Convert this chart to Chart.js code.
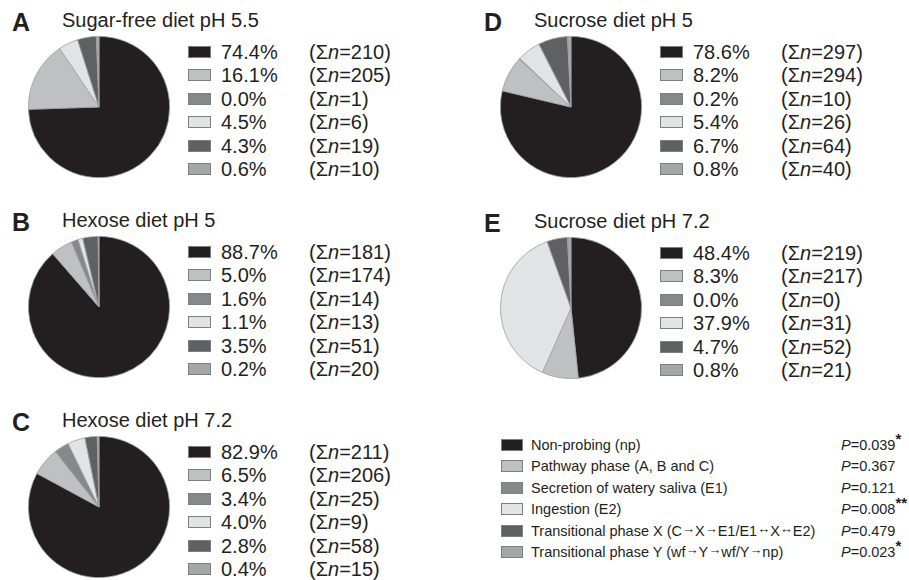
<!DOCTYPE html>
<html>
<head>
<meta charset="utf-8">
<script src="https://cdn.jsdelivr.net/npm/chart.js@4.4.1/dist/chart.umd.min.js"></script>
<style>
  html, body { margin: 0; padding: 0; background: #ffffff; }
  body { width: 909px; height: 580px; position: relative; overflow: hidden;
         font-family: "Liberation Sans", Arial, sans-serif; color: #231f20; }
  .abs { position: absolute; white-space: nowrap; }
  .letter { font-weight: bold; font-size: 25px; line-height: 25px; }
  .title { font-size: 20px; line-height: 20px; }
  .row { font-size: 20px; line-height: 20px; }
  .sw { position: absolute; box-sizing: border-box; border: 1px solid #7d7e80; }
  .key { font-size: 14.5px; line-height: 16px; }
  .arr { font-size: 13px; position: relative; top: -3px; }
  sup { font-size: 15px; font-weight: bold; vertical-align: 0; position: relative; top: -6px; font-style: normal; }
  canvas { position: absolute; }
</style>
</head>
<body>
<script>
// Feeding phases shown in every pie, in drawing order (clockwise from 12 o'clock)
const phases = [
  'Non-probing (np)',
  'Pathway phase (A, B and C)',
  'Secretion of watery saliva (E1)',
  'Ingestion (E2)',
  'Transitional phase X',
  'Transitional phase Y'
];
const phaseColors = ['#231f20', '#bfc0c2', '#87888a', '#e2e3e4', '#5f6062', '#a5a6a8'];

// Panels
const panelLetters = ['A', 'B', 'C', 'D', 'E'];
const panelTitles = [
  'Sugar-free diet pH 5.5',
  'Hexose diet pH 5',
  'Hexose diet pH 7.2',
  'Sucrose diet pH 5',
  'Sucrose diet pH 7.2'
];

// Percentage of time per phase
const pctA = [74.4, 16.1, 0.0, 4.5, 4.3, 0.6];
const pctB = [88.7, 5.0, 1.6, 1.1, 3.5, 0.2];
const pctC = [82.9, 6.5, 3.4, 4.0, 2.8, 0.4];
const pctD = [78.6, 8.2, 0.2, 5.4, 6.7, 0.8];
const pctE = [48.4, 8.3, 0.0, 37.9, 4.7, 0.8];

// Number of events per phase
const nA = [210, 205, 1, 6, 19, 10];
const nB = [181, 174, 14, 13, 51, 20];
const nC = [211, 206, 25, 9, 58, 15];
const nD = [297, 294, 10, 26, 64, 40];
const nE = [219, 217, 0, 31, 52, 21];

// P-values of the diet comparison for each phase
const pValues = ['0.039', '0.367', '0.121', '0.008', '0.479', '0.023'];
const pStars = ['*', '', '', '**', '', '*'];

const pctSets = [pctA, pctB, pctC, pctD, pctE];
const nSets = [nA, nB, nC, nD, nE];

// Panel anchor positions: column x offset and top y
const panelPos = [
  { dx: 0, dy: 0 }, { dx: 0, dy: 200 }, { dx: 0, dy: 400 },
  { dx: 472, dy: 0 }, { dx: 472, dy: 201 }
];

function el(tag, cls, css, html) {
  const e = document.createElement(tag);
  if (cls) e.className = cls;
  Object.assign(e.style, css);
  if (html !== undefined) e.innerHTML = html;
  document.body.appendChild(e);
  return e;
}

panelLetters.forEach((letter, i) => {
  const { dx, dy } = panelPos[i];
  el('div', 'abs letter', { left: (12 + dx) + 'px', top: (10 + dy) + 'px' }, letter);
  el('div', 'abs title', { left: (62 + dx) + 'px', top: (10 + dy) + 'px' }, panelTitles[i]);

  const rowStep = 23.4;
  phases.forEach((p, k) => {
    const cy = 52 + dy + k * rowStep;
    el('div', 'sw', { left: (188 + dx) + 'px', top: (cy - 6) + 'px', width: '23px', height: '12px',
                      background: phaseColors[k] });
    el('div', 'abs row', { left: (221 + dx) + 'px', top: (cy - 10) + 'px' },
       pctSets[i][k].toFixed(1) + '%');
    el('div', 'abs row', { left: (309 + dx) + 'px', top: (cy - 10) + 'px' },
       '(&Sigma;<i>n</i>=' + nSets[i][k] + ')');
  });

  // Pie
  const size = 142;
  const cx = 99 + dx, cyPie = 107 + dy;
  const cv = el('canvas', '', { left: (cx - size / 2) + 'px', top: (cyPie - size / 2) + 'px' });
  cv.width = size; cv.height = size;
  cv.style.width = size + 'px'; cv.style.height = size + 'px';
  new Chart(cv, {
    type: 'pie',
    data: {
      labels: phases,
      datasets: [{
        data: pctSets[i],
        backgroundColor: phaseColors,
        borderColor: '#9d9ea0',
        borderWidth: 0.8
      }]
    },
    options: {
      responsive: false,
      animation: false,
      layout: { padding: 0 },
      plugins: { legend: { display: false }, tooltip: { enabled: false } }
    }
  });
});

// Shared key of phases with P-values
const keyLabels = [
  'Non-probing (np)',
  'Pathway phase (A, B and C)',
  'Secretion of watery saliva (E1)',
  'Ingestion (E2)',
  'Transitional phase X (C<span class="arr">&rarr;</span>X<span class="arr">&rarr;</span>E1/E1<span class="arr">&harr;</span>X<span class="arr">&harr;</span>E2)',
  'Transitional phase Y (wf<span class="arr">&rarr;</span>Y<span class="arr">&rarr;</span>wf/Y<span class="arr">&rarr;</span>np)'
];
keyLabels.forEach((txt, k) => {
  const cy = 445 + k * 21.4;
  el('div', 'sw', { left: '501px', top: (cy - 6) + 'px', width: '22px', height: '12px',
                    background: phaseColors[k] });
  el('div', 'abs key', { left: '531px', top: (cy - 8) + 'px' }, txt);
  el('div', 'abs key', { left: '841px', top: (cy - 8) + 'px' },
     '<i>P</i>=' + pValues[k] + (pStars[k] ? '<sup>' + pStars[k] + '</sup>' : ''));
});
</script>
</body>
</html>
